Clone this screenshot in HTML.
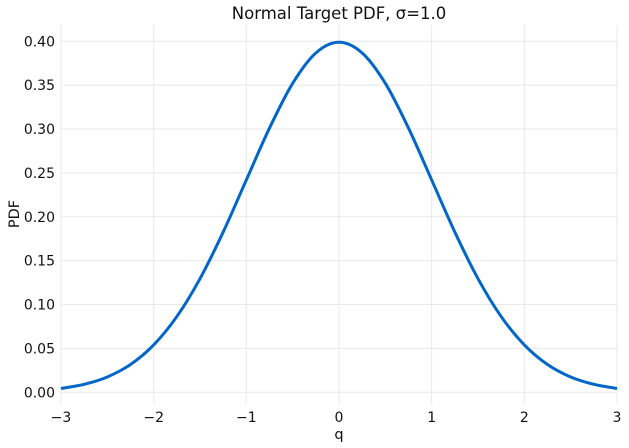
<!DOCTYPE html>
<html><head><meta charset="utf-8"><style>
body{margin:0;background:#fff;}
svg{display:block;font-family:"DejaVu Sans","Liberation Sans",sans-serif;}
</style></head><body>
<svg id="chart" width="629" height="448">
<text x="339" y="19" text-anchor="middle" font-size="16.5" fill="#111">Normal Target PDF, σ=1.0</text>
<g id="grid"></g>
<g id="axes"></g>
<path id="curve" fill="none" stroke="#0066c8" stroke-width="3" stroke-linejoin="round"/>
<text x="339" y="439" text-anchor="middle" font-size="14.5" fill="#111">q</text>
<text transform="translate(19,214) rotate(-90)" text-anchor="middle" font-size="14.5" fill="#111">PDF</text>
</svg>
<script>
const qValues=[-3,-2.75,-2.5,-2.25,-2,-1.75,-1.5,-1.25,-1,-0.75,-0.5,-0.25,0,0.25,0.5,0.75,1,1.25,1.5,1.75,2,2.25,2.5,2.75,3];
const pdfValues=[0.0044,0.0091,0.0175,0.0317,0.054,0.0863,0.1295,0.1826,0.242,0.3011,0.3521,0.3867,0.3989,0.3867,0.3521,0.3011,0.242,0.1826,0.1295,0.0863,0.054,0.0317,0.0175,0.0091,0.0044];
const xTicks=[-3,-2,-1,0,1,2,3];
const xTickLabels=["−3","−2","−1","0","1","2","3"];
const yTicks=[0,0.05,0.1,0.15,0.2,0.25,0.3,0.35,0.4];
const yTickLabels=["0.00","0.05","0.10","0.15","0.20","0.25","0.30","0.35","0.40"];
const X0=61,X1=617,Y0=392.3,Y1=41.3,TOP=25,BOT=404;
const xs=v=>X0+(v+3)/6*(X1-X0);
const ys=v=>Y0+(v/0.4)*(Y1-Y0);
const NS="http://www.w3.org/2000/svg";
const grid=document.getElementById('grid'),axes=document.getElementById('axes');
function mk(tag,attrs,parent,txt){const e=document.createElementNS(NS,tag);for(const k in attrs)e.setAttribute(k,attrs[k]);if(txt!==undefined)e.textContent=txt;parent.appendChild(e);return e;}
xTicks.forEach((t,i)=>{
  const l=mk('line',{x1:xs(t),x2:xs(t),y1:TOP,y2:BOT,stroke:'#e8e8e8','stroke-width':1},grid);
  
  
  const tx=mk('text',{x:xs(t),y:422,'text-anchor':'middle','font-size':14,fill:'#111'},axes,xTickLabels[i]);
  
  
});
yTicks.forEach((t,i)=>{
  const l=mk('line',{x1:X0,x2:X1,y1:ys(t),y2:ys(t),stroke:'#e8e8e8','stroke-width':1},grid);
  
  
  const tx=mk('text',{x:55,y:ys(t)+5,'text-anchor':'end','font-size':14,fill:'#111'},axes,yTickLabels[i]);
  
  
});
const pts=qValues.map((q,i)=>[xs(q),ys(pdfValues[i])]);
let d='M'+pts[0][0]+','+pts[0][1];
for(let i=0;i<pts.length-1;i++){
  const p0=pts[Math.max(0,i-1)],p1=pts[i],p2=pts[i+1],p3=pts[Math.min(pts.length-1,i+2)];
  const c1=[p1[0]+(p2[0]-p0[0])/6,p1[1]+(p2[1]-p0[1])/6];
  const c2=[p2[0]-(p3[0]-p1[0])/6,p2[1]-(p3[1]-p1[1])/6];
  d+=` C${c1[0]},${c1[1]} ${c2[0]},${c2[1]} ${p2[0]},${p2[1]}`;
}
document.getElementById('curve').setAttribute('d',d);
</script>
</body></html>
